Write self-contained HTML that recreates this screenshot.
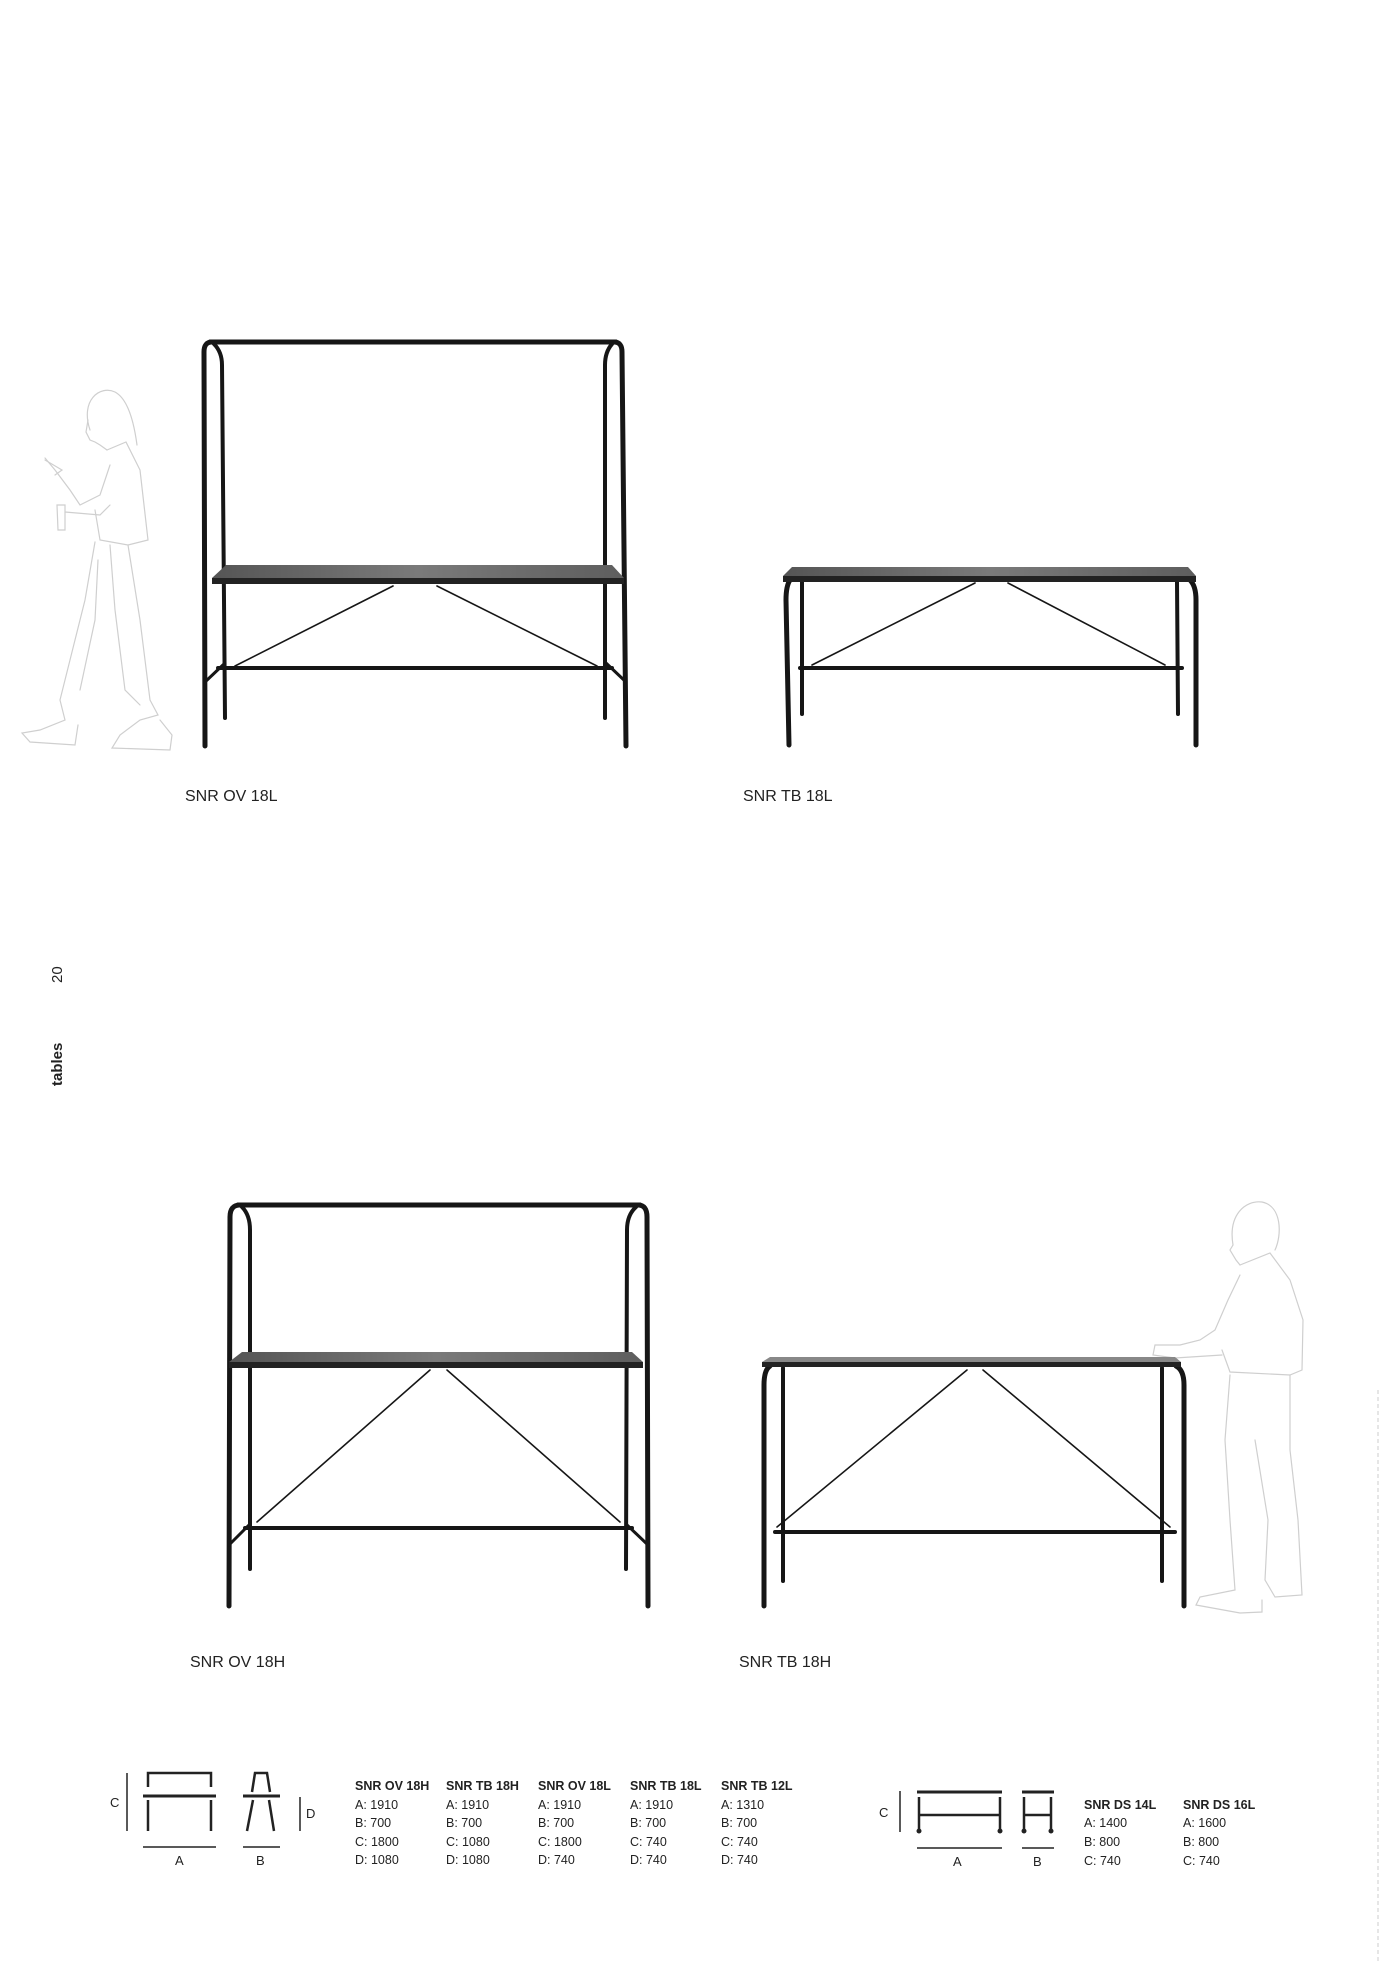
<!DOCTYPE html>
<html><head><meta charset="utf-8"><style>
html,body{margin:0;padding:0;background:#fff;}
svg{display:block;}
text{font-family:"Liberation Sans",sans-serif;fill:#222;}
</style></head><body>
<svg width="1389" height="1964" viewBox="0 0 1389 1964" xmlns="http://www.w3.org/2000/svg">
<defs>
<linearGradient id="tg" x1="0" y1="0" x2="1" y2="0">
<stop offset="0" stop-color="#555"/><stop offset="0.5" stop-color="#7a7a7a"/><stop offset="1" stop-color="#5e5e5e"/>
</linearGradient>
</defs>

<text transform="translate(62,983) rotate(-90)" font-size="15">20</text>
<text transform="translate(62,1086) rotate(-90)" font-size="15" font-weight="bold">tables</text>
<line x1="1378" y1="1390" x2="1378" y2="1964" stroke="#ddd" stroke-width="1.5" stroke-dasharray="4 3"/>

<g fill="none" stroke="#cfcfcf" stroke-width="1.2" stroke-linecap="round">
<path d="M90,430 C80,400 100,385 115,392 C130,400 135,430 137,445"/>
<path d="M88,420 L86,432 L90,440 L95,442 L100,445 L107,450"/>
<path d="M107,450 L126,442 L140,470 L148,540 L128,545 L100,540 L95,510"/>
<path d="M110,465 L100,495 L80,505 L70,490 L55,470 L45,458"/>
<path d="M45,460 L62,470 L55,475"/>
<path d="M57,505 L65,505 L65,530 L58,530 Z"/>
<path d="M65,512 L100,515 L110,505"/>
<path d="M95,542 L85,600 L70,660 L60,700 L65,720 L40,730 L22,733 L30,742 L75,745 L78,725"/>
<path d="M128,545 L140,620 L150,700 L158,715 L140,720 L120,735 L112,748 L170,750 L172,735 L160,720"/>
<path d="M110,545 L115,610 L125,690 L140,705"/>
<path d="M98,560 L95,620 L80,690"/>
</g>

<g fill="none" stroke="#cfcfcf" stroke-width="1.2" stroke-linecap="round">
<path d="M1233,1245 C1228,1215 1245,1200 1262,1202 C1282,1206 1282,1235 1275,1250"/>
<path d="M1233,1245 L1230,1250 L1236,1260 L1240,1265"/>
<path d="M1240,1265 L1270,1253 L1290,1280 L1303,1320 L1302,1370 L1290,1375 L1230,1372 L1222,1350"/>
<path d="M1240,1275 L1228,1300 L1215,1330 L1200,1340 L1180,1345 L1155,1345 L1153,1355 L1175,1358 L1222,1355"/>
<path d="M1230,1375 L1225,1440 L1230,1520 L1235,1590 L1200,1597 L1196,1605 L1240,1613 L1262,1612 L1262,1600"/>
<path d="M1290,1375 L1290,1450 L1298,1520 L1302,1595 L1275,1597 L1265,1580 L1268,1520 L1255,1440"/>
</g>

<g stroke="#161616" stroke-linecap="round" fill="none">
<line x1="210" y1="342" x2="616" y2="342" stroke-width="5"/>
<path d="M212,342 Q204,342 204,352 L205,746" stroke-width="5"/>
<path d="M214,344 Q222,352 222,365 L225,718" stroke-width="4"/>
<path d="M614,342 Q622,342 622,352 L626,746" stroke-width="5"/>
<path d="M612,344 Q605,352 605,365 L605,718" stroke-width="4"/>
<line x1="218" y1="668" x2="612" y2="668" stroke-width="4"/>
<line x1="205" y1="682" x2="225" y2="663" stroke-width="3"/>
<line x1="626" y1="682" x2="606" y2="663" stroke-width="3"/>
<line x1="235" y1="666" x2="393" y2="586" stroke-width="1.6"/>
<line x1="437" y1="586" x2="597" y2="666" stroke-width="1.6"/>
<path d="M790,580 Q786,586 786,600 L789,745" stroke-width="5"/>
<path d="M1190,580 Q1196,586 1196,600 L1196,745" stroke-width="5"/>
<line x1="802" y1="582" x2="802" y2="714" stroke-width="4"/>
<line x1="1177" y1="582" x2="1178" y2="714" stroke-width="4"/>
<line x1="800" y1="668" x2="1182" y2="668" stroke-width="4"/>
<line x1="812" y1="665" x2="975" y2="583" stroke-width="1.6"/>
<line x1="1008" y1="583" x2="1165" y2="665" stroke-width="1.6"/>
<line x1="238" y1="1205" x2="640" y2="1205" stroke-width="5"/>
<path d="M240,1205 Q230,1205 230,1217 L229,1606" stroke-width="5"/>
<path d="M242,1207 Q250,1215 250,1230 L250,1569" stroke-width="4"/>
<path d="M638,1205 Q647,1205 647,1217 L648,1606" stroke-width="5"/>
<path d="M636,1207 Q627,1215 627,1230 L626,1569" stroke-width="4"/>
<line x1="245" y1="1528" x2="632" y2="1528" stroke-width="4"/>
<line x1="229" y1="1545" x2="250" y2="1524" stroke-width="3"/>
<line x1="648" y1="1545" x2="626" y2="1524" stroke-width="3"/>
<line x1="257" y1="1522" x2="430" y2="1370" stroke-width="1.6"/>
<line x1="447" y1="1370" x2="620" y2="1522" stroke-width="1.6"/>
<path d="M770,1366 Q764,1370 764,1385 L764,1606" stroke-width="5"/>
<path d="M1176,1366 Q1184,1370 1184,1385 L1184,1606" stroke-width="5"/>
<line x1="783" y1="1368" x2="783" y2="1581" stroke-width="4"/>
<line x1="1162" y1="1368" x2="1162" y2="1581" stroke-width="4"/>
<line x1="775" y1="1532" x2="1175" y2="1532" stroke-width="4"/>
<line x1="777" y1="1527" x2="967" y2="1370" stroke-width="1.6"/>
<line x1="983" y1="1370" x2="1170" y2="1527" stroke-width="1.6"/>
</g>

<polygon points="226,565 612,565 624,578 212,578" fill="url(#tg)"/>
<rect x="212" y="578" width="412" height="6" fill="#222"/>
<polygon points="792,567 1188,567 1196,576 783,576" fill="url(#tg)"/>
<rect x="783" y="576" width="413" height="6" fill="#222"/>
<polygon points="242,1352 632,1352 643,1362 229,1362" fill="url(#tg)"/>
<rect x="229" y="1362" width="414" height="6" fill="#222"/>
<polygon points="770,1357 1175,1357 1181,1362 762,1362" fill="#888"/>
<rect x="762" y="1362" width="419" height="5" fill="#222"/>

<g font-size="16" fill="#333">
<text x="185" y="801">SNR OV 18L</text>
<text x="743" y="801">SNR TB 18L</text>
<text x="190" y="1667">SNR OV 18H</text>
<text x="739" y="1667">SNR TB 18H</text>
</g>

<g stroke="#222" fill="none">
<line x1="127" y1="1773" x2="127" y2="1831" stroke-width="1.5"/>
<path d="M148,1787 L148,1773 L211,1773 L211,1787" stroke-width="2.5"/>
<line x1="143" y1="1796" x2="216" y2="1796" stroke-width="3"/>
<line x1="148" y1="1800" x2="148" y2="1831" stroke-width="2.5"/>
<line x1="211" y1="1800" x2="211" y2="1831" stroke-width="2.5"/>
<line x1="143" y1="1847" x2="216" y2="1847" stroke-width="1.5"/>
<path d="M252,1792 L255,1773 L267,1773 L270,1792" stroke-width="2.5"/>
<line x1="243" y1="1796" x2="280" y2="1796" stroke-width="3"/>
<line x1="253" y1="1800" x2="247" y2="1831" stroke-width="2.5"/>
<line x1="269" y1="1800" x2="274" y2="1831" stroke-width="2.5"/>
<line x1="300" y1="1797" x2="300" y2="1831" stroke-width="1.5"/>
<line x1="243" y1="1847" x2="280" y2="1847" stroke-width="1.5"/>
</g>
<g font-size="13">
<text x="110" y="1807">C</text>
<text x="175" y="1865">A</text>
<text x="256" y="1865">B</text>
<text x="306" y="1818">D</text>
</g>
<g font-size="12.5">
<text x="355" y="1790" font-weight="bold">SNR OV 18H</text>
<text x="355" y="1809">A: 1910</text><text x="355" y="1827">B: 700</text><text x="355" y="1846">C: 1800</text><text x="355" y="1864">D: 1080</text>
<text x="446" y="1790" font-weight="bold">SNR TB 18H</text>
<text x="446" y="1809">A: 1910</text><text x="446" y="1827">B: 700</text><text x="446" y="1846">C: 1080</text><text x="446" y="1864">D: 1080</text>
<text x="538" y="1790" font-weight="bold">SNR OV 18L</text>
<text x="538" y="1809">A: 1910</text><text x="538" y="1827">B: 700</text><text x="538" y="1846">C: 1800</text><text x="538" y="1864">D: 740</text>
<text x="630" y="1790" font-weight="bold">SNR TB 18L</text>
<text x="630" y="1809">A: 1910</text><text x="630" y="1827">B: 700</text><text x="630" y="1846">C: 740</text><text x="630" y="1864">D: 740</text>
<text x="721" y="1790" font-weight="bold">SNR TB 12L</text>
<text x="721" y="1809">A: 1310</text><text x="721" y="1827">B: 700</text><text x="721" y="1846">C: 740</text><text x="721" y="1864">D: 740</text>
</g>

<g stroke="#222" fill="none">
<line x1="900" y1="1791" x2="900" y2="1832" stroke-width="1.5"/>
<line x1="917" y1="1792" x2="1002" y2="1792" stroke-width="3"/>
<line x1="919" y1="1797" x2="919" y2="1830" stroke-width="2.5"/>
<line x1="1000" y1="1797" x2="1000" y2="1830" stroke-width="2.5"/>
<line x1="919" y1="1815" x2="1000" y2="1815" stroke-width="2.5"/>
<line x1="917" y1="1848" x2="1002" y2="1848" stroke-width="1.5"/>
<line x1="1022" y1="1792" x2="1054" y2="1792" stroke-width="3"/>
<line x1="1024" y1="1797" x2="1024" y2="1830" stroke-width="2.5"/>
<line x1="1051" y1="1797" x2="1051" y2="1830" stroke-width="2.5"/>
<line x1="1024" y1="1815" x2="1051" y2="1815" stroke-width="2.5"/>
<line x1="1022" y1="1848" x2="1054" y2="1848" stroke-width="1.5"/>
</g>
<g fill="#222">
<circle cx="919" cy="1831" r="2.5"/><circle cx="1000" cy="1831" r="2.5"/>
<circle cx="1024" cy="1831" r="2.5"/><circle cx="1051" cy="1831" r="2.5"/>
</g>
<g font-size="13">
<text x="879" y="1817">C</text>
<text x="953" y="1866">A</text>
<text x="1033" y="1866">B</text>
</g>
<g font-size="12.5">
<text x="1084" y="1809" font-weight="bold">SNR DS 14L</text>
<text x="1084" y="1827">A: 1400</text><text x="1084" y="1846">B: 800</text><text x="1084" y="1865">C: 740</text>
<text x="1183" y="1809" font-weight="bold">SNR DS 16L</text>
<text x="1183" y="1827">A: 1600</text><text x="1183" y="1846">B: 800</text><text x="1183" y="1865">C: 740</text>
</g>
</svg>
</body></html>
